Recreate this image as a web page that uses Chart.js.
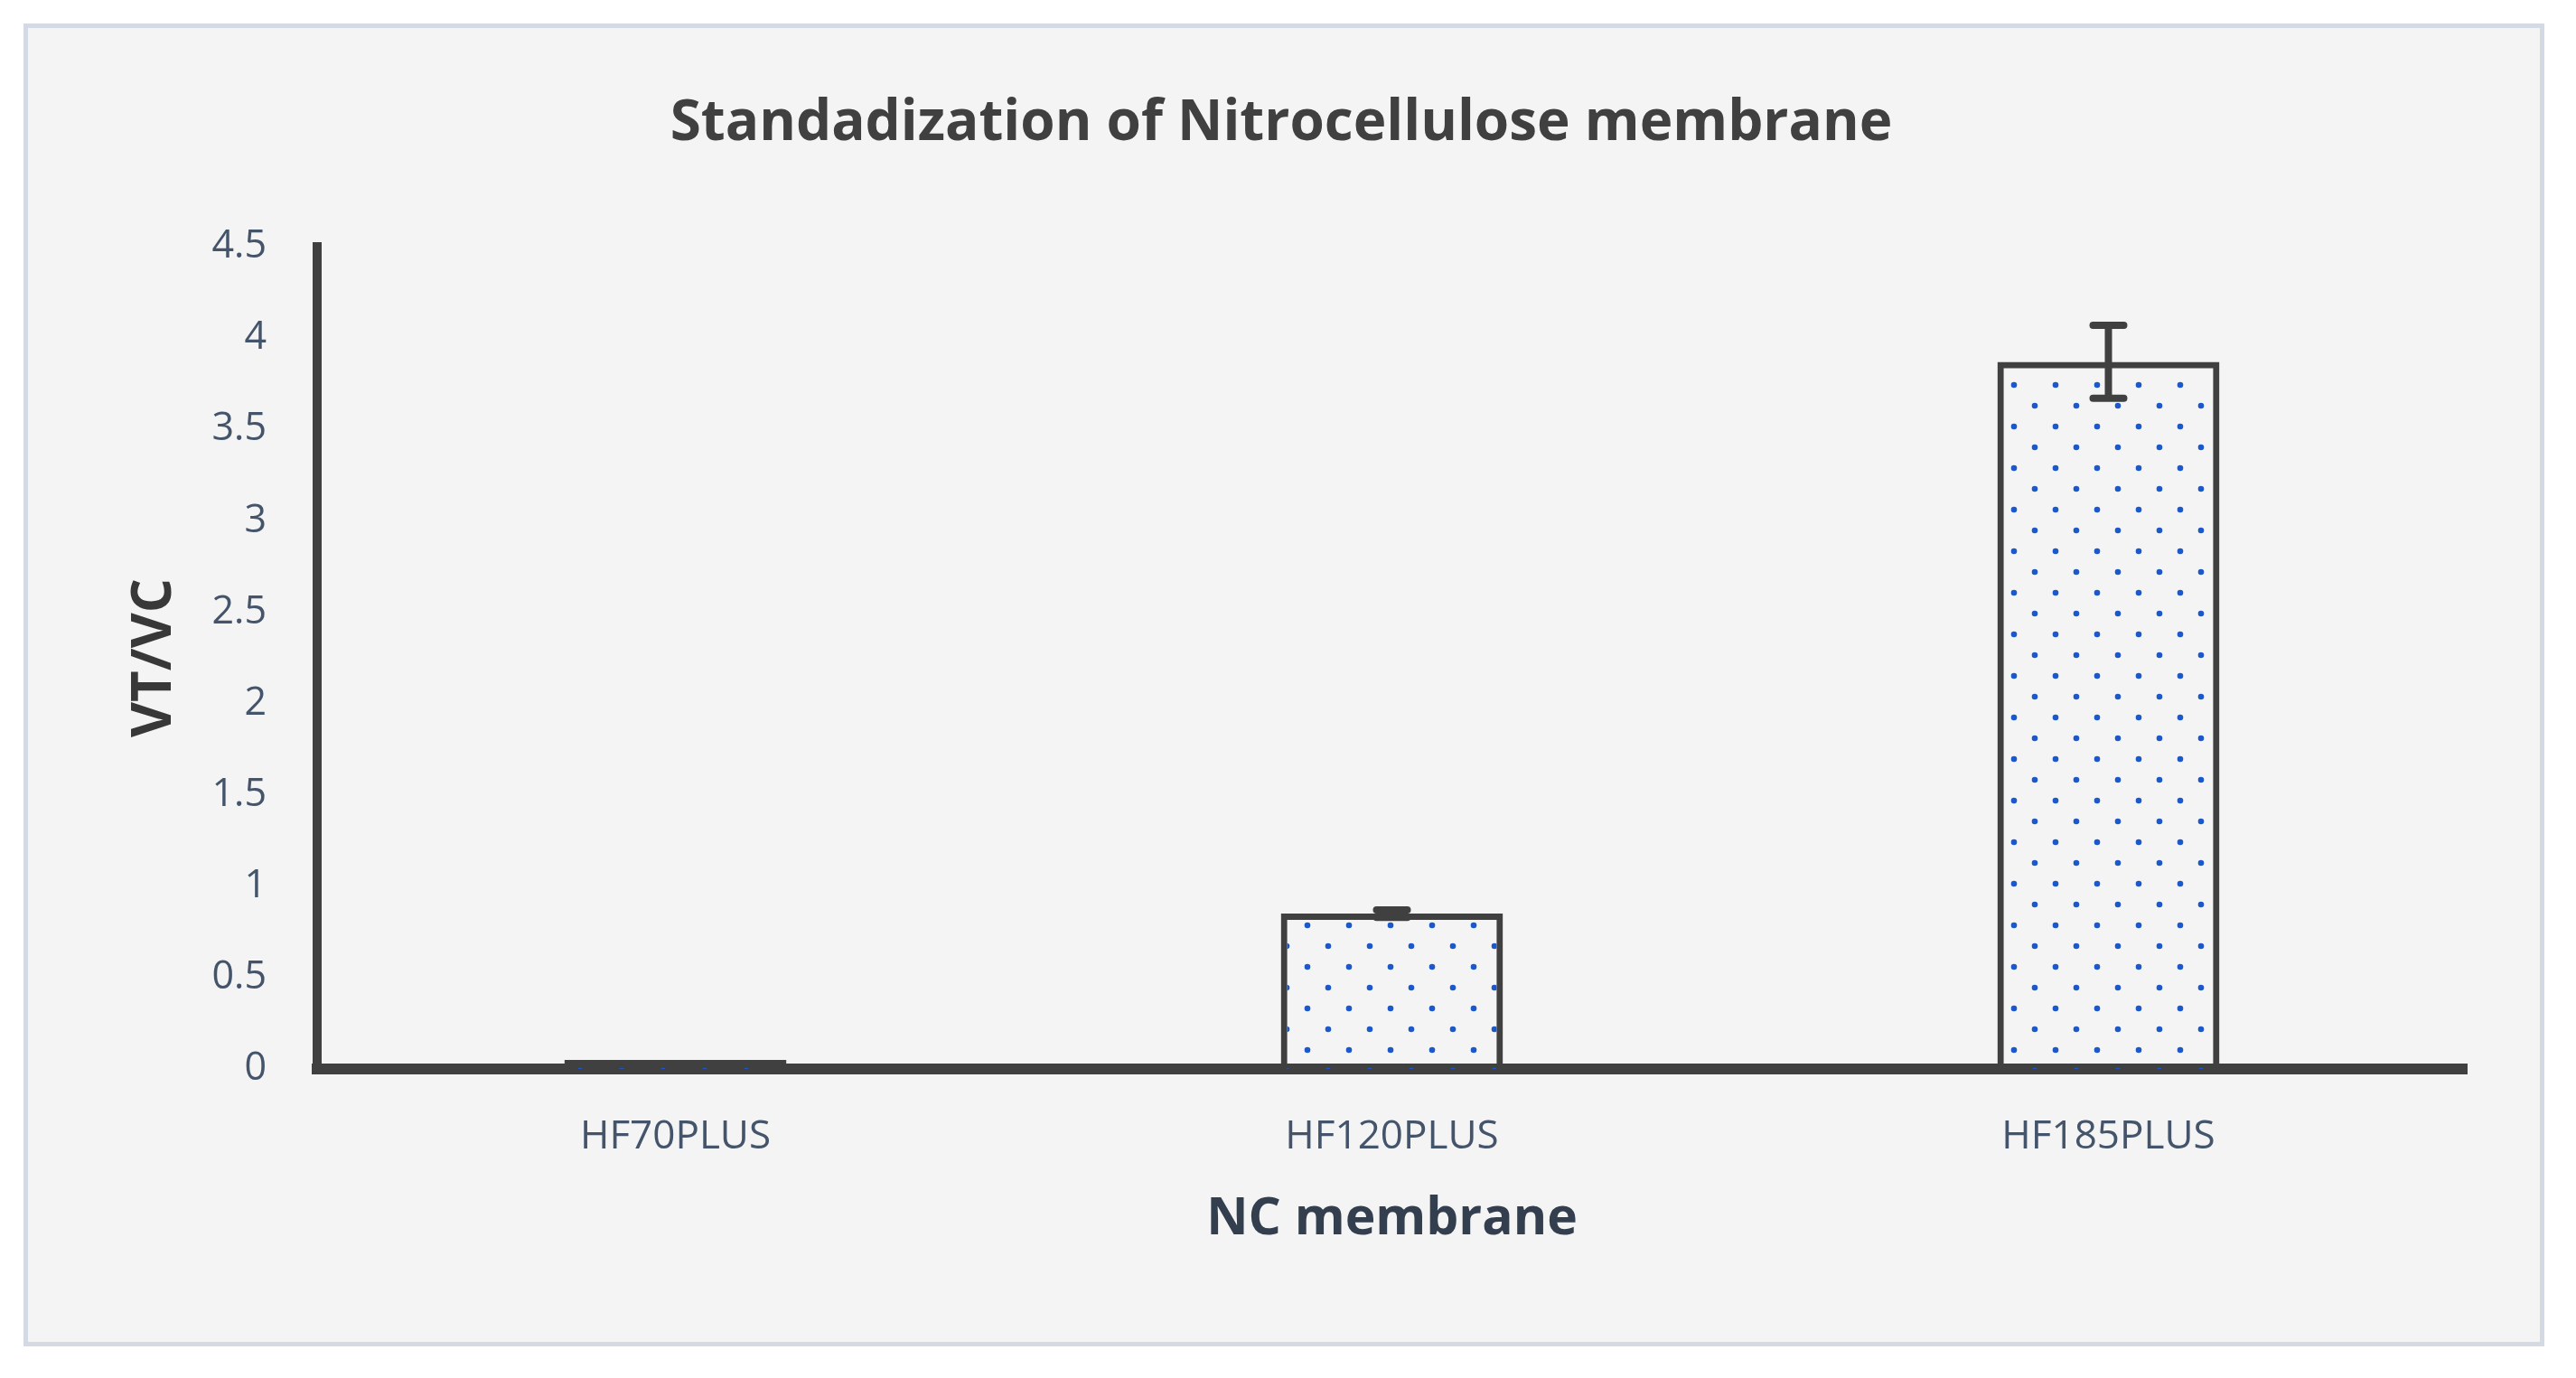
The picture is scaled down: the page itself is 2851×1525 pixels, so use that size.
<!DOCTYPE html>
<html>
<head>
<meta charset="utf-8">
<title>Standadization of Nitrocellulose membrane</title>
<script src="https://cdn.jsdelivr.net/npm/chart.js@4.4.1/dist/chart.umd.min.js"></script>
<style>
    html, body { margin: 0; padding: 0; background: #ffffff; }
    #frame {
        position: absolute; left: 26px; top: 26px; width: 2790px; height: 1464px;
        box-sizing: border-box; border: 5px solid #d3dae3; background: #f4f4f4;
    }
    #chart { position: absolute; left: 0; top: 0; }
</style>
</head>
<body>
<div id="frame"></div>
<canvas id="chart" width="2851" height="1525"></canvas>
<script>
// ── Data ─────────────────────────────────────────────────────────────────────

const CATEGORIES = ['HF70PLUS', 'HF120PLUS', 'HF185PLUS'];
const VALUES     = [0.05, 0.85, 3.87];
const ERRORS     = [0, 0.02, 0.2];
const Y_TICKS    = ['0', '0.5', '1', '1.5', '2', '2.5', '3', '3.5', '4', '4.5'];

// ── Constants ────────────────────────────────────────────────────────────────

const DARK = '#404040';
const TICK_COLOR = '#44546A';
const DOT_BLUE = '#1a58cc';
const FAMILY = "'Open Sans', sans-serif";

// ── Helpers ──────────────────────────────────────────────────────────────────

// Dotted fill used inside the bars
function dotPattern(ctx) {
    const tile = document.createElement('canvas');
    tile.width = 46;
    tile.height = 46;
    const t = tile.getContext('2d');
    t.fillStyle = DOT_BLUE;
    [[21, 12], [44, 35], [-2, 35]].forEach(([x, y]) => {
        t.beginPath();
        t.arc(x, y, 3.3, 0, Math.PI * 2);
        t.fill();
    });
    return ctx.createPattern(tile, 'repeat');
}

// Draws +/- error bars on top of each bar
const errorBars = {
    id: 'errorBars',
    afterDatasetsDraw(chart) {
        const meta = chart.getDatasetMeta(0);
        const y = chart.scales.y;
        const ctx = chart.ctx;
        ctx.save();
        ctx.strokeStyle = DARK;
        ctx.lineWidth = 8;
        ctx.lineCap = 'round';
        meta.data.forEach((bar, i) => {
            if (!ERRORS[i]) return;
            const top = y.getPixelForValue(VALUES[i] + ERRORS[i]);
            const bot = y.getPixelForValue(VALUES[i] - ERRORS[i]);
            ctx.beginPath();
            ctx.moveTo(bar.x, top);
            ctx.lineTo(bar.x, bot);
            ctx.moveTo(bar.x - 17, top);
            ctx.lineTo(bar.x + 17, top);
            ctx.moveTo(bar.x - 17, bot);
            ctx.lineTo(bar.x + 17, bot);
            ctx.stroke();
        });
        ctx.restore();
    }
};

// ── Chart ────────────────────────────────────────────────────────────────────

function init() {
    const canvas = document.getElementById('chart');
    const ctx = canvas.getContext('2d');

    new Chart(canvas, {
        type: 'bar',
        data: {
            labels: CATEGORIES,
            datasets: [{
                data: VALUES,
                backgroundColor: dotPattern(ctx),
                borderColor: DARK,
                borderWidth: 7,
                categoryPercentage: 1,
                barPercentage: 0.31
            }]
        },
        options: {
            responsive: false,
            animation: false,
            devicePixelRatio: 1,
            layout: { padding: { left: 106, right: 121, top: 0, bottom: 0 } },
            plugins: {
                legend: { display: false },
                tooltip: { enabled: false },
                title: {
                    display: true,
                    text: 'Standadization of Nitrocellulose membrane',
                    color: DARK,
                    font: { family: FAMILY, size: 62, weight: 'bold', lineHeight: 1 },
                    padding: { top: 106, bottom: 105 }
                }
            },
            scales: {
                x: {
                    grid: { display: false, drawTicks: false },
                    border: { display: true, color: DARK, width: 12 },
                    ticks: { color: TICK_COLOR, font: { family: FAMILY, size: 44 }, padding: 49 },
                    title: {
                        display: true,
                        text: 'NC membrane',
                        color: '#333f4f',
                        font: { family: FAMILY, size: 57, weight: 'bold', lineHeight: 1 },
                        padding: { top: 0, bottom: 147 }
                    },
                    afterFit: s => { s.height = 342; }
                },
                y: {
                    min: 0,
                    max: 4.5,
                    grid: { display: false, drawTicks: false },
                    border: { display: true, color: DARK, width: 10 },
                    ticks: {
                        stepSize: 0.5,
                        color: TICK_COLOR,
                        font: { family: FAMILY, size: 43 },
                        padding: 56,
                        callback: (v, i) => Y_TICKS[i]
                    },
                    title: {
                        display: true,
                        text: 'VT/VC',
                        color: '#383838',
                        font: { family: FAMILY, size: 60, weight: 'bold', lineHeight: 1 },
                        padding: { top: 36, bottom: 0 }
                    },
                    afterFit: s => { s.width = 245; }
                }
            }
        },
        plugins: [errorBars]
    });
}

window.addEventListener('load', init);
</script>
</body>
</html>
